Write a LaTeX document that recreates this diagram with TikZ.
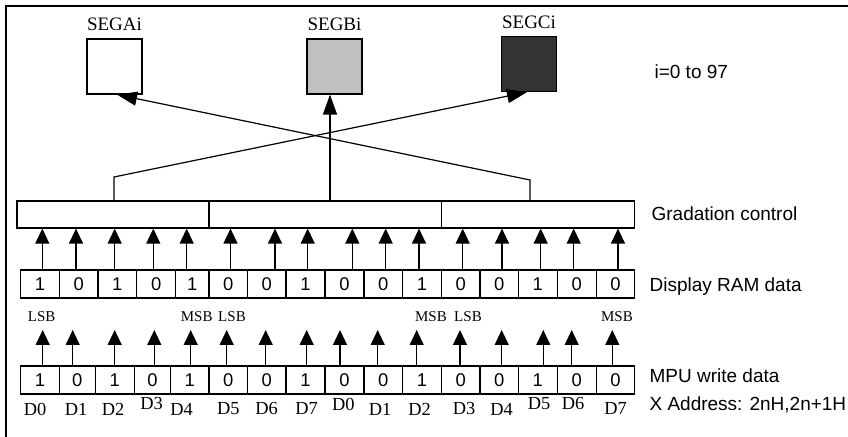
\documentclass[tikz,border=0pt]{standalone}
\usepackage{fontspec}
\setmainfont{Liberation Serif}
\setsansfont{Liberation Sans}
\usepackage{tikz}
\usetikzlibrary{arrows.meta}
\definecolor{seggray}{RGB}{192,192,192}
\definecolor{segdark}{RGB}{51,51,51}

\begin{document}
\begin{tikzpicture}[x=0.5pt, y=-0.5pt, line width=0.6pt,
	cell/.style={draw, minimum height=14pt, inner sep=0pt, font=\sffamily\fontsize{9.2}{10}\selectfont},
	gbox/.style={draw, minimum height=13.5pt, inner sep=0pt},
	segbox/.style={draw, minimum size=27.5pt, inner sep=0pt},
	seglabel/.style={font=\fontsize{9.5}{11}\selectfont, label distance=0pt},
	bitarrow/.style={-{Triangle[length=7.5pt,width=7pt]}},
	segarrow/.style={-{Triangle[length=10pt,width=7pt]}},
	sidetext/.style={anchor=west, inner sep=0pt, align=left, font=\sffamily\fontsize{9.5}{14}\selectfont},
	bitname/.style={font=\fontsize{9.2}{10}\selectfont},
	endname/.style={font=\fontsize{7.5}{9}\selectfont}]
	\useasboundingbox (0,0) rectangle (848,437);
	% frame
	\draw[line width=1pt] (6,460) -- (6,6) -- (870,6);
	
	% segment boxes
	\node[segbox, label={[seglabel]above:SEGAi}] (segA) at (114.5,66.5) {};
	\node[segbox, fill=seggray, label={[seglabel]above:SEGBi}] (segB) at (334.5,66.5) {};
	\node[segbox, fill=segdark, label={[seglabel]above:SEGCi}] (segC) at (529,64) {};
	\node[sidetext] (range) at (654,72) {i=0 to 97};
	
	% gradation control
	\node[gbox, minimum width=96pt] (g1) at (113,214.5) {};
	\node[gbox, minimum width=116.15pt] (g2) at (325.15,214.5) {};
	\node[gbox, minimum width=96.6pt] (g3) at (537.9,214.5) {};
	\node[sidetext] (gtext) at (651,214) {Gradation control};
	
	\draw[segarrow] (g1.north -| 114,0) -- (114,177) -- (segC.south -| 527,0);
	\draw[segarrow] (g2.north -| 330,0) -- (segB.south -| 330,0);
	\draw[segarrow] (g3.north -| 530,0) -- (530,180) -- (segA.south -| 117,0);
	
	% display RAM data
	\foreach \i/\a/\b/\v in {0/20.7/59.3/1, 1/59.3/98/0, 2/98/136.7/1, 3/136.7/175.7/0,
		4/175.7/209/1, 5/209/247.7/0, 6/247.7/286/0, 7/286/325/1, 8/325/364/0,
		9/364/402.7/0, 10/402.7/441.3/1, 11/441.3/480/0, 12/480/518.3/0,
		13/518.3/557.3/1, 14/557.3/596.3/0, 15/596.3/634.7/0}
		\node[cell, minimum width={(\b-\a)*0.5pt}] (d\i) at ({(\a+\b)/2},284) {\v};
	\node[sidetext] (dtext) at (649,287) {Display RAM data};
	
	\foreach \x in {42.3, 76, 114.7, 153.3, 186.7, 230.5, 275, 307.7, 352.3, 385.7,
		419, 462.7, 502, 540.7, 573.7, 618}
		\draw[bitarrow] (d0.north -| \x,0) -- (g1.south -| \x,0);
	
	% LSB / MSB
	\node[endname] (lsb1) at (41.7,317) {LSB};
	\node[endname] (msb1) at (196.7,317) {MSB};
	\node[endname] (lsb2) at (232,317) {LSB};
	\node[endname] (msb2) at (431,317) {MSB};
	\node[endname] (lsb3) at (468,317) {LSB};
	\node[endname] (msb3) at (617,317) {MSB};
	\coordinate (tipline) at (0,330);
	
	% MPU write data
	\foreach \i/\a/\b/\v in {0/20.7/59.3/1, 1/59.3/95.3/0, 2/95.3/134.3/1, 3/134.3/170.7/0,
		4/170.7/209/1, 5/209/247.7/0, 6/247.7/286/0, 7/286/325/1, 8/325/364/0,
		9/364/402.7/0, 10/402.7/441.3/1, 11/441.3/480/0, 12/480/518.3/0,
		13/518.3/557.3/1, 14/557.3/596.3/0, 15/596.3/634.7/0}
		\node[cell, minimum width={(\b-\a)*0.5pt}] (m\i) at ({(\a+\b)/2},380) {\v};
	\node[sidetext] (mtext) at (649,391) {MPU write data\\X Address: 2nH,2n+1H};
	
	\foreach \x in {42.7, 72.7, 114.7, 154.3, 190.7, 226.7, 265.7, 306.7, 340, 377.7,
		416.7, 460, 501.7, 543.3, 571.7, 612.3}
		\draw[bitarrow] (m0.north -| \x,0) -- (tipline -| \x,0);
	
	% bit names
	\foreach \x/\y/\t [count=\k] in {35/409/D0, 76/409/D1, 113/409/D2, 151.7/404/D3,
		181.7/409/D4, 228.3/409/D5, 266.7/409/D6, 306.7/409/D7, 343.3/404/D0,
		380/409/D1, 419.7/409/D2, 464/409/D3, 501.5/409/D4, 539/404/D5,
		573/404/D6, 615.7/409/D7}
		\node[bitname] (bn\k) at (\x,\y) {\t};
\end{tikzpicture}
\end{document}
